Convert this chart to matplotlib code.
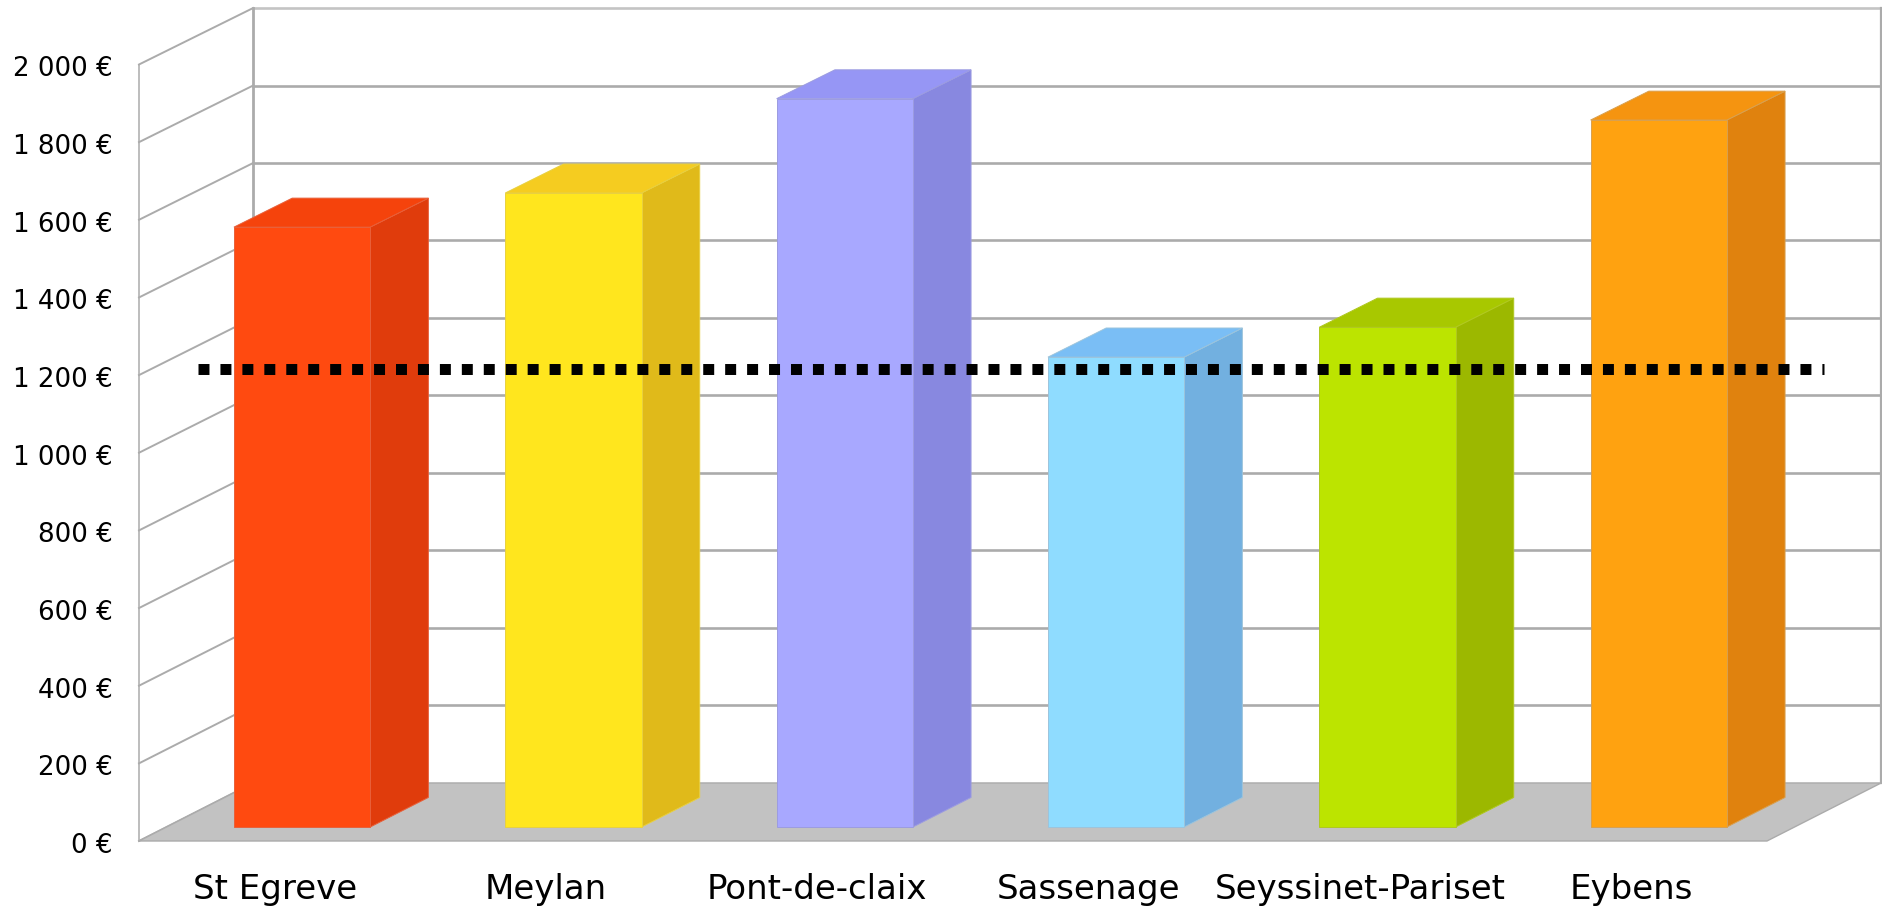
import matplotlib
matplotlib.use('Agg')
import matplotlib.pyplot as plt
from matplotlib.patches import Polygon
from matplotlib.transforms import ScaledTranslation

# Data
communes = ['St Egreve', 'Meylan', 'Pont-de-claix', 'Sassenage', 'Seyssinet-Pariset', 'Eybens']
prices = [1546, 1634, 1877, 1211, 1288, 1822]
average = 1141
y_ticks = [0, 200, 400, 600, 800, 1000, 1200, 1400, 1600, 1800, 2000]
y_tick_labels = ['0 €', '200 €', '400 €', '600 €', '800 €', '1 000 €', '1 200 €',
                 '1 400 €', '1 600 €', '1 800 €', '2 000 €']
front_colors = ['#FF4A10', '#FFE61E', '#A8A8FF', '#8FDCFF', '#BCE400', '#FFA210']
side_colors = ['#E03C0C', '#E0BA1A', '#8888E0', '#72B0E0', '#9CB800', '#E0820E']
top_colors = ['#F5430C', '#F5CC20', '#9696F5', '#7ABEF5', '#A8C800', '#F59410']
edge_colors = ['#E8603A', '#E8D040', '#9C9CE0', '#9CC4DC', '#B0C820', '#D8A050']

W, H = 1882, 907
GRID = '#ABABAB'

# fake 3D: going to the back of the box shifts by this much in data units
DEPTH_X = 0.4207
DEPTH_Y = 149.5
SHRINK = 0.002  # the back wall is a little shorter than the front edge
BAR_W = 0.502


def proj(x, v, d):
    return (x + d * DEPTH_X, v * (1 - d * SHRINK) + d * DEPTH_Y)


fig = plt.figure(figsize=(W / 100, H / 100), dpi=100)
ax = fig.add_axes([139 / W, (H - 841) / H, 1628 / W, 776.5 / H])
ax.set_xlim(0, 6)
ax.set_ylim(0, 2000)
for s in ax.spines.values():
    s.set_visible(False)
ax.patch.set_visible(False)

# floor
ax.add_patch(Polygon([proj(0, 0, 0), proj(6, 0, 0), proj(6, 0, 1), proj(0, 0, 1)],
                     fc='#C2C2C2', ec=GRID, lw=1, clip_on=False, zorder=2))

# walls and grid
for v in y_ticks:
    ax.plot(*zip(proj(0, v, 0), proj(0, v, 1)), color=GRID, lw=1.4, clip_on=False, zorder=1)
    if v > 0:
        col = '#C4C4C4' if v == 2000 else GRID
        ax.plot(*zip(proj(0, v, 1), proj(6, v, 1)), color=col, lw=1.9, clip_on=False, zorder=1)
ax.plot(*zip(proj(0, 0, 0), proj(0, 2000, 0)), color=GRID, lw=1.1, clip_on=False, zorder=1)
ax.plot(*zip(proj(0, 0, 1), proj(0, 2000, 1)), color=GRID, lw=2.0, clip_on=False, zorder=1)
ax.plot(*zip(proj(6, 0, 1), proj(6, 2000, 1)), color=GRID, lw=1.6, clip_on=False, zorder=1)

# bars
for i, v in enumerate(prices):
    x0 = i + 0.5 - BAR_W / 2
    x1 = i + 0.5 + BAR_W / 2
    d0, d1 = 0.24, 0.75
    z = 3 + i
    side = [proj(x1, 0, d0), proj(x1, 0, d1), proj(x1, v, d1), proj(x1, v, d0)]
    top = [proj(x0, v, d0), proj(x1, v, d0), proj(x1, v, d1), proj(x0, v, d1)]
    front = [proj(x0, 0, d0), proj(x1, 0, d0), proj(x1, v, d0), proj(x0, v, d0)]
    ax.add_patch(Polygon(side, fc=side_colors[i], ec=edge_colors[i], lw=0.7, clip_on=False, zorder=z))
    ax.add_patch(Polygon(top, fc=top_colors[i], ec=edge_colors[i], lw=0.7, clip_on=False, zorder=z))
    ax.add_patch(Polygon(front, fc=front_colors[i], ec=edge_colors[i], lw=0.7, clip_on=False, zorder=z))

# average line, sits in the middle of the depth
ax.plot(*zip(proj(0.007, average, 0.5), proj(6, average, 0.5)), color='black', lw=7.9,
        linestyle=(0, (1, 1)), dash_capstyle='butt', clip_on=False, zorder=20)

ax.set_yticks(y_ticks)
ax.set_yticklabels(y_tick_labels, fontsize=18.8)
ax.set_xticks([i + 0.5 for i in range(len(communes))])
ax.set_xticklabels(communes, fontsize=24.5)
ax.tick_params(axis='y', length=0, pad=19)
ax.tick_params(axis='x', length=0, pad=23)

# y labels sit a bit under their grid lines
nudge = ScaledTranslation(0, -2 / 100, fig.dpi_scale_trans)
for lab in ax.get_yticklabels():
    lab.set_transform(lab.get_transform() + nudge)

fig.savefig('out.png', dpi=100, facecolor='white')
